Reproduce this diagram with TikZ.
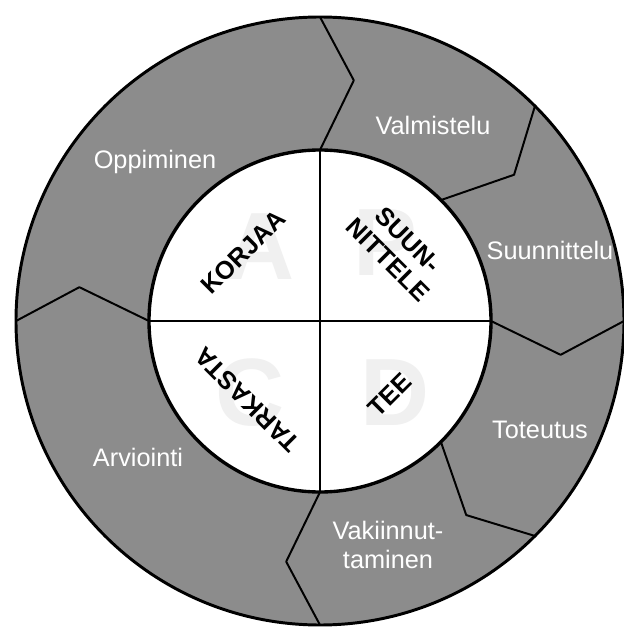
\documentclass[tikz,border=0pt]{standalone}
\usepackage{fontspec}
\setmainfont{Liberation Sans}
\usetikzlibrary{calc}

\begin{document}
\begin{tikzpicture}[
  x=0.025cm, y=0.025cm,
  phase/.style={text=white, font=\fontsize{18}{21}\selectfont, align=center, inner sep=0pt},
  stepword/.style={text=black, font=\bfseries\fontsize{18}{20}\selectfont, align=center, inner sep=0pt},
  ghost/.style={text=black!6, font=\bfseries\fontsize{68}{68}\selectfont, inner sep=0pt},
  ring/.style={draw=black, line width=2.1pt},
  divider/.style={draw=black, line width=1.4pt, line join=round}
]
\useasboundingbox (0,0) rectangle (624,634);
\fill[white] (0,0) rectangle (624,634);
\coordinate (c) at (320,313);
% outer ring and inner disc
\filldraw[ring, fill=black!45] (c) circle[radius=304];
\filldraw[ring, fill=white, line width=2.4pt] (c) circle[radius=171];
% faint PDCA letters
\node[ghost] (gA) at (260,387) {A};
\node[ghost] (gP) at (385,391) {P};
\node[ghost] (gC) at (250,241) {C};
\node[ghost] (gD) at (395,241) {D};
% cross
\draw[line width=2pt] ($(c)+(0,171)$) -- ($(c)+(0,-171)$);
\draw[line width=2pt] ($(c)+(-171,0)$) -- ($(c)+(171,0)$);
% ring dividers
\begin{scope}[shift={(c)}]
  \foreach \a in {90,45,0,-45,-90,180}
    \draw[divider] (\a:304) -- ({\a-8}:243) -- (\a:171);
\end{scope}
% phase labels
\node[phase] (opp) at (155,472) {Oppiminen};
\node[phase] (val) at (433,509) {Valmistelu};
\node[phase] (suu) at (550,384) {Suunnittelu};
\node[phase] (tot) at (540,204) {Toteutus};
\node[phase] (vak) at (388,89)  {Vakiinnut-\\taminen};
\node[phase] (arv) at (138,177) {Arviointi};
% step words
\node[stepword, rotate=45]  (korjaa)   at (243,382) {KORJAA};
\node[stepword, rotate=-45] (suunn)    at (398,384) {SUUN-\\NITTELE};
\node[stepword, rotate=135] (tarkasta) at (247,234) {TARKASTA};
\node[stepword, rotate=45]  (tee)      at (390,239) {TEE};
\end{tikzpicture}
\end{document}
